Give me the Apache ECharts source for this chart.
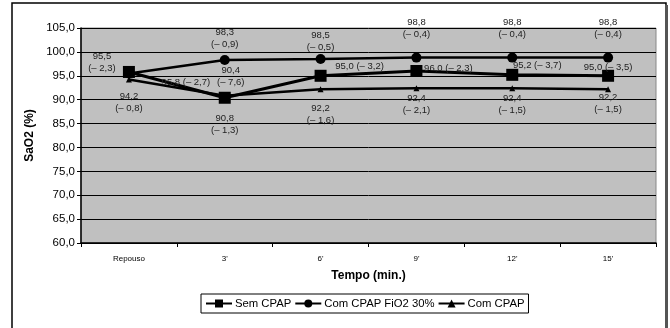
<!DOCTYPE html>
<html><head><meta charset="utf-8">
<script src="https://cdn.jsdelivr.net/npm/echarts@6/dist/echarts.min.js"></script>
<style>html,body{margin:0;padding:0;background:#fff}#c{width:670px;height:328px}</style>
</head><body><div id="c"></div>
<script>
const categories = ['Repouso', "3'", "6'", "9'", "12'", "15'"];
const yTicks = [60, 65, 70, 75, 80, 85, 90, 95, 100, 105];
const semCPAP = [95.8, 90.4, 95.0, 96.0, 95.2, 95.0];
const semCPAPsd = [2.7, 7.6, 3.2, 2.3, 3.7, 3.5];
const comFiO2 = [95.5, 98.3, 98.5, 98.8, 98.8, 98.8];
const comFiO2sd = [2.3, 0.9, 0.5, 0.4, 0.4, 0.4];
const comCPAP = [94.2, 90.8, 92.2, 92.4, 92.4, 92.2];
const comCPAPsd = [0.8, 1.3, 1.6, 2.1, 1.5, 1.5];
const seriesNames = ['Sem CPAP', 'Com CPAP FiO2 30%', 'Com CPAP'];

// label placement (style only)
const semOff = [[57, 10], [6, -21], [39, -9], [32, -3], [25, -9], [0, -8]];
const semTwoLine = [false, true, false, false, false, false];
const fioOff = [[-27, -11], [0, -22], [0, -18], [0, -29], [0, -29], [0, -29]];
const comOff = [[0, 23], [0, 29], [0, 25], [0, 16], [0, 16], [0, 14]];

const fmt = v => v.toFixed(1).replace('.', ',');
const sdTxt = s => '(\u2013 ' + fmt(s) + ')';

function build(vals, sds, offs, twoLine) {
  return vals.map((v, i) => ({
    value: v,
    label: {
      show: true, position: 'inside', offset: offs[i],
      align: 'center', verticalAlign: 'middle',
      formatter: (twoLine === null || twoLine[i]) ? fmt(v) + '\n' + sdTxt(sds[i]) : fmt(v) + ' ' + sdTxt(sds[i]),
      color: '#222', fontSize: 9.5, lineHeight: 12,
      fontFamily: 'Liberation Sans, Arial, sans-serif'
    }
  }));
}

const chart = echarts.init(document.getElementById('c'), null, {renderer: 'canvas'});
const ff = 'Liberation Sans, Arial, sans-serif';
chart.setOption({
  animation: false,
  graphic: [
    {type: 'rect', shape: {x: 12, y: 3, width: 654, height: 340}, style: {fill: 'none', stroke: '#000', lineWidth: 1.5}, z: 100},
    {type: 'rect', shape: {x: 665, y: 5, width: 3, height: 330}, style: {fill: '#555'}, z: 100}
  ],
  grid: {left: 81, right: 14, top: 28, bottom: 85, show: true, backgroundColor: '#c0c0c0', borderColor: '#888', borderWidth: 1},
  legend: {
    data: seriesNames, left: 201, top: 294, orient: 'horizontal',
    backgroundColor: '#fff', borderColor: '#000', borderWidth: 1,
    padding: [4, 4], itemGap: 3, itemWidth: 26, itemHeight: 10,
    textStyle: {fontSize: 11.3, color: '#000', fontFamily: ff, padding: [0, 0, 0, -2]}
  },
  xAxis: {
    type: 'category', data: categories, boundaryGap: true,
    name: 'Tempo (min.)', nameLocation: 'middle', nameGap: 27,
    nameTextStyle: {fontSize: 12, fontWeight: 'bold', color: '#000', fontFamily: ff},
    axisLine: {lineStyle: {color: '#000', width: 1.5}},
    axisTick: {show: true, length: 4, lineStyle: {color: '#000'}},
    axisLabel: {fontSize: 8, color: '#000', margin: 12, fontFamily: ff},
    splitLine: {show: false}
  },
  yAxis: {
    type: 'value', min: 60, max: 105, interval: 5,
    name: 'SaO2 (%)', nameLocation: 'middle', nameGap: 43, nameRotate: 90,
    nameTextStyle: {fontSize: 12, fontWeight: 'bold', color: '#000', fontFamily: ff},
    axisLine: {show: true, lineStyle: {color: '#000', width: 1.5}},
    axisTick: {show: true, length: 4, inside: false, lineStyle: {color: '#000'}},
    axisLabel: {fontSize: 11.5, color: '#000', margin: 6, fontFamily: ff,
      formatter: v => yTicks.includes(v) ? fmt(v) : ''},
    splitLine: {show: true, lineStyle: {color: '#000', width: 1}}
  },
  series: [
    {name: seriesNames[0], type: 'line', data: build(semCPAP, semCPAPsd, semOff, semTwoLine),
     symbol: 'rect', symbolSize: 12, lineStyle: {color: '#000', width: 3}, itemStyle: {color: '#000'}, z: 3},
    {name: seriesNames[1], type: 'line', data: build(comFiO2, comFiO2sd, fioOff, null),
     symbol: 'circle', symbolSize: 10, lineStyle: {color: '#000', width: 2.5}, itemStyle: {color: '#000'}, z: 2},
    {name: seriesNames[2], type: 'line', data: build(comCPAP, comCPAPsd, comOff, null),
     symbol: 'triangle', symbolSize: 6, lineStyle: {color: '#000', width: 2.5}, itemStyle: {color: '#000'}, z: 2}
  ]
});
</script></body></html>
